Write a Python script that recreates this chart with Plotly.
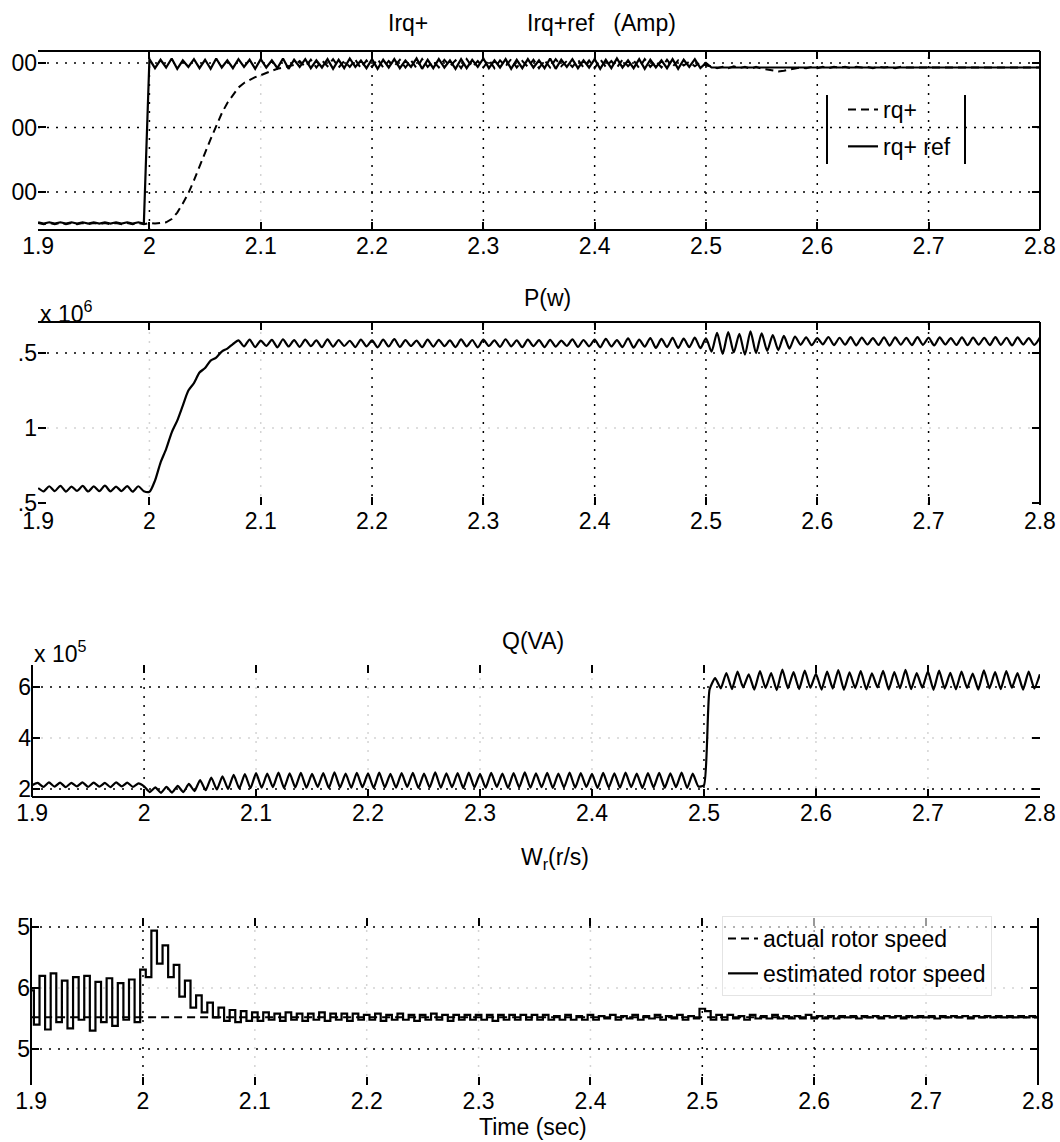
import numpy as np
import plotly.graph_objects as go

# ---------------- data ----------------
TIME = np.round(1.9 + 0.005 * np.arange(181), 3)   # 5 ms sample grid, 1.9 .. 2.8 s

X_TICKS = [1.9, 2.0, 2.1, 2.2, 2.3, 2.4, 2.5, 2.6, 2.7, 2.8]
X_TICKTEXT = ["1.9", "2", "2.1", "2.2", "2.3", "2.4", "2.5", "2.6", "2.7", "2.8"]

# Irq+ ref (solid)
IRQ_REF = [
    53, 51, 53, 51, 53, 51, 53, 51, 53, 51, 53, 51, 53, 51, 53, 51, 53, 51, 53, 51,
    306, 292, 305, 293, 307, 291, 304, 294, 306, 292,
    305, 291, 307, 293, 304, 292, 306, 294, 305, 291,
    306, 293, 304, 292, 307, 291, 305, 294, 306, 292,
    304, 293, 306, 291, 305, 292, 307, 294, 304, 292,
    306, 291, 305, 293, 306, 292, 304, 294, 307, 291,
    305, 292, 306, 293, 304, 291, 306, 292, 305, 294,
    307, 292, 304, 293, 306, 291, 305, 292, 306, 293,
    304, 292, 307, 291, 305, 294, 306, 292, 304, 293,
    306, 291, 305, 292, 307, 293, 304, 292, 306, 291,
    305, 293, 304, 292, 306, 291, 305, 294, 306, 292,
    300,
    293, 293, 293, 293, 293, 293, 293, 293, 293, 293,
    293, 293, 293, 293, 293, 293, 293, 293, 293, 293,
    293, 293, 293, 293, 293, 293, 293, 293, 293, 293,
    293, 293, 293, 293, 293, 293, 293, 293, 293, 293,
    293, 293, 293, 293, 293, 293, 293, 293, 293, 293,
    293, 293, 293, 293, 293, 293, 293, 293, 293, 293,
]

# Irq+ (dashed)
IRQ = [
    52, 50, 52, 50, 52, 50, 52, 50, 52, 50, 52, 50, 52, 50, 52, 50, 52, 50, 52, 50,
    52, 51, 52, 53,
    58, 68, 82, 98, 118, 140, 160, 182, 202, 222, 238, 251, 262, 269, 274, 278,
    281, 285, 288, 291, 293, 295, 297,
    303, 294, 305, 293, 304, 295, 306, 293, 303, 294,
    305, 292, 304, 294, 306, 293, 303, 295, 305, 293,
    304, 292, 306, 294, 303, 293, 305, 295, 304, 292,
    306, 294, 303, 293, 305, 292, 304, 295, 306, 293,
    303, 294, 305, 292, 304, 293, 306, 295, 303, 294,
    305, 293, 304, 292, 306, 294, 303, 293, 305, 295,
    304, 292, 306, 294, 303, 293, 305, 294, 304, 296,
    302, 295, 301, 296,
    295, 292, 294, 292, 295, 292, 294, 291, 294, 291,
    290, 288, 287, 288, 290, 292, 293, 292, 294, 292,
    294, 292, 294, 293, 294, 292, 294, 293, 294, 292,
    294, 293, 294, 292, 294, 293, 293, 293, 293, 293,
    293, 293, 293, 293, 293, 293, 293, 293, 293, 293,
    293, 293, 293, 293, 293, 293, 293, 293, 293, 293,
]

# P (W), x 10^6
P_W = [
    0.600, 0.578, 0.612, 0.580, 0.615, 0.576, 0.610, 0.581, 0.614, 0.577,
    0.611, 0.579, 0.616, 0.578, 0.609, 0.580, 0.613, 0.576, 0.612, 0.579,
    0.575,
    0.65, 0.77, 0.86, 0.97, 1.05, 1.15, 1.25, 1.30, 1.37, 1.40, 1.45, 1.47, 1.51, 1.53, 1.56,
    1.585, 1.545, 1.590, 1.540, 1.583, 1.548, 1.588, 1.538, 1.592, 1.544,
    1.586, 1.541, 1.589, 1.546, 1.584, 1.539, 1.591, 1.543, 1.587, 1.547,
    1.582, 1.540, 1.590, 1.545, 1.585, 1.538, 1.589, 1.544, 1.593, 1.541,
    1.586, 1.547, 1.583, 1.539, 1.590, 1.543, 1.588, 1.546, 1.584, 1.540,
    1.591, 1.544, 1.587, 1.538, 1.589, 1.547, 1.585, 1.541, 1.592, 1.545,
    1.584, 1.539, 1.590, 1.546, 1.586, 1.540, 1.588, 1.543, 1.583, 1.547,
    1.591, 1.541, 1.587, 1.545, 1.589, 1.538, 1.595, 1.544, 1.586, 1.540,
    1.598, 1.536, 1.590, 1.542, 1.600, 1.535, 1.594, 1.540, 1.602, 1.534,
    1.596, 1.539, 1.603, 1.532, 1.598,
    1.510, 1.635, 1.495, 1.640, 1.505, 1.628, 1.490, 1.645, 1.500, 1.632,
    1.515, 1.620, 1.520, 1.615, 1.530, 1.610,
    1.555, 1.605, 1.552, 1.600, 1.558, 1.607, 1.553, 1.602, 1.556, 1.606,
    1.551, 1.603, 1.557, 1.600, 1.554, 1.605, 1.550, 1.604, 1.556, 1.601,
    1.553, 1.606, 1.555, 1.602, 1.551, 1.604, 1.557, 1.600, 1.554, 1.605,
    1.552, 1.603, 1.556, 1.601, 1.553, 1.606, 1.555, 1.602, 1.551, 1.604,
    1.557, 1.600, 1.554, 1.603,
]

# Q (VA), x 10^5
Q_VA = [
    2.15, 2.24, 2.08, 2.26, 2.09, 2.25, 2.07, 2.24, 2.10, 2.26,
    2.08, 2.25, 2.09, 2.24, 2.07, 2.26, 2.10, 2.25, 2.08, 2.22,
    2.10, 1.88, 2.06, 1.85, 2.08, 1.86, 2.12, 1.88, 2.20, 1.92,
    2.35, 1.95, 2.45, 1.98, 2.50, 2.00, 2.55, 2.02, 2.58, 2.03,
    2.62, 2.05, 2.60, 2.07, 2.64, 2.04, 2.61, 2.06, 2.63, 2.05,
    2.59, 2.08, 2.62, 2.04, 2.65, 2.06, 2.60, 2.05, 2.63, 2.07,
    2.61, 2.04, 2.64, 2.06, 2.59, 2.05, 2.62, 2.08, 2.63, 2.04,
    2.60, 2.06, 2.65, 2.05, 2.61, 2.07, 2.62, 2.04, 2.64, 2.06,
    2.59, 2.05, 2.63, 2.08, 2.60, 2.04, 2.62, 2.06, 2.65, 2.05,
    2.61, 2.07, 2.63, 2.04, 2.60, 2.06, 2.64, 2.05, 2.62, 2.08,
    2.59, 2.04, 2.63, 2.06, 2.61, 2.05, 2.64, 2.07, 2.60, 2.04,
    2.62, 2.06, 2.63, 2.05, 2.61, 2.07, 2.64, 2.04, 2.60, 2.10,
    2.15,
    5.90, 6.35, 5.95, 6.55, 5.92, 6.60, 5.98, 6.50, 5.90, 6.62,
    5.96, 6.55, 5.88, 6.68, 5.95, 6.58, 5.92, 6.64, 5.97, 6.52,
    5.90, 6.60, 5.94, 6.66, 5.89, 6.57, 5.96, 6.62, 5.91, 6.54,
    5.98, 6.63, 5.90, 6.58, 5.95, 6.67, 5.92, 6.55, 5.97, 6.61,
    5.89, 6.64, 5.94, 6.56, 5.91, 6.60, 5.96, 6.53, 5.90, 6.65,
    5.95, 6.58, 5.92, 6.62, 5.97, 6.55, 5.90, 6.60, 5.94, 6.50,
]

# estimated rotor speed (solid)
W_EST = [
    1.598, 1.570, 1.610, 1.566, 1.612, 1.572, 1.606, 1.567, 1.609, 1.574,
    1.610, 1.565, 1.605, 1.572, 1.608, 1.569, 1.604, 1.574, 1.607, 1.572,
    1.615, 1.609, 1.647, 1.620, 1.635, 1.609, 1.619, 1.593, 1.606, 1.584,
    1.594, 1.580, 1.588, 1.576, 1.584, 1.573, 1.582, 1.572, 1.581, 1.573,
    1.580, 1.573, 1.580, 1.574, 1.579, 1.573, 1.580, 1.574, 1.579, 1.573,
    1.579, 1.574, 1.580, 1.573, 1.579, 1.574, 1.579, 1.573, 1.579, 1.574,
    1.578, 1.574, 1.579, 1.573, 1.578, 1.574, 1.579, 1.574, 1.578, 1.573,
    1.578, 1.574, 1.579, 1.574, 1.578, 1.573, 1.578, 1.574, 1.578, 1.574,
    1.578, 1.574, 1.578, 1.573, 1.578, 1.574, 1.578, 1.574, 1.578, 1.574,
    1.578, 1.574, 1.578, 1.574, 1.577, 1.574, 1.578, 1.574, 1.577, 1.574,
    1.578, 1.574, 1.577, 1.575, 1.578, 1.574, 1.577, 1.575, 1.578, 1.574,
    1.577, 1.575, 1.578, 1.574, 1.577, 1.575, 1.578, 1.574, 1.577, 1.575,
    1.583, 1.581, 1.574, 1.578, 1.574, 1.578, 1.575, 1.577, 1.574, 1.578,
    1.575, 1.577, 1.575, 1.578, 1.575, 1.577, 1.575, 1.577, 1.575, 1.578,
    1.575, 1.577, 1.575, 1.577, 1.575, 1.577, 1.576, 1.577, 1.575, 1.577,
    1.576, 1.577, 1.575, 1.577, 1.576, 1.577, 1.575, 1.577, 1.576, 1.577,
    1.576, 1.577, 1.575, 1.577, 1.576, 1.577, 1.576, 1.577, 1.575, 1.577,
    1.576, 1.577, 1.576, 1.577, 1.576, 1.577, 1.576, 1.577, 1.576, 1.577,
    1.576,
]

# actual rotor speed (dashed, constant)
W_ACT_T = [1.9, 2.8]
W_ACT = [1.576, 1.576]

Y1_TICKS, Y1_TEXT = [100, 200, 300], ["00", "00", "00"]
Y2_TICKS, Y2_TEXT = [0.5, 1.0, 1.5], [".5", "1", ".5"]
Y3_TICKS, Y3_TEXT = [2, 4, 6], ["2", "4", "6"]
Y4_TICKS, Y4_TEXT = [1.55, 1.6, 1.65], ["5", "6", "5"]

for s in (IRQ_REF, IRQ, P_W, Q_VA, W_EST):
    assert len(s) == len(TIME), len(s)

# ---------------- layout geometry (page pixels) ----------------
FONT = "Liberation Sans, Arial, Helvetica, sans-serif"
FS = 23
WF, HF, OFF = 1060, 1142, 0  # figure fills the window (body margin removed below)
XR = [1.8999, 2.8001]


def fx(px):
    return (px - OFF) / WF


def fy(py):
    return 1 - (py - OFF) / HF


PANELS = [
    dict(xp=(38, 1040), yp=(230, 51), yr=[41, 318.6], yt=Y1_TICKS, ytt=Y1_TEXT,
         gy=[100, 200, 300], fadex=[2.1], fadey=[], edges=["top", "bottom", "right"]),
    dict(xp=(38, 1040), yp=(505, 322), yr=[0.487, 1.707], yt=Y2_TICKS, ytt=Y2_TEXT,
         gy=[1.0, 1.5], fadex=[2.0, 2.1], fadey=[1.0], edges=["top", "right"]),
    dict(xp=(32, 1040), yp=(797, 665), yr=[1.686, 6.863], yt=Y3_TICKS, ytt=Y3_TEXT,
         gy=[2, 4, 6], fadex=[2.1, 2.2, 2.3, 2.4, 2.6, 2.7], fadey=[4], edges=["left", "bottom"]),
    dict(xp=(31, 1038), yp=(1085, 918), yr=[1.5205, 1.6574], yt=Y4_TICKS, ytt=Y4_TEXT,
         gy=[1.55, 1.6, 1.65], fadex=[2.1, 2.2, 2.3, 2.4, 2.7], fadey=[1.6], edges=["left", "right"]),
]

fig = go.Figure()
layout = dict(
    width=WF, height=HF, margin=dict(l=0, r=0, t=0, b=0, autoexpand=False),
    paper_bgcolor="white", plot_bgcolor="white",
    font=dict(family=FONT, size=FS, color="black"),
)
shapes = []
axis_common = dict(showgrid=False, zeroline=False, showline=False, ticks="inside",
                   ticklen=8, tickwidth=1.5, tickcolor="black", mirror="ticks",
                   automargin=False, tickmode="array", ticklabeloverflow="allow",
                   tickfont=dict(family=FONT, size=FS, color="black"))

for i, p in enumerate(PANELS, start=1):
    xa = "xaxis" if i == 1 else f"xaxis{i}"
    ya = "yaxis" if i == 1 else f"yaxis{i}"
    xr = "x" if i == 1 else f"x{i}"
    yr = "y" if i == 1 else f"y{i}"
    layout[xa] = dict(axis_common, domain=[fx(p["xp"][0]), fx(p["xp"][1])], range=XR,
                      tickvals=X_TICKS, ticktext=X_TICKTEXT, anchor=yr)
    layout[ya] = dict(axis_common, domain=[fy(p["yp"][0]), fy(p["yp"][1])], range=p["yr"],
                      tickvals=p["yt"], ticktext=p["ytt"], anchor=xr)
    # dotted grid
    for xv in X_TICKS[1:-1]:
        col = "#d4d4d4" if xv in p["fadex"] else "black"
        shapes.append(dict(type="line", xref=xr, yref=f"{yr} domain", x0=xv, x1=xv, y0=0, y1=1,
                           line=dict(color=col, width=1.5, dash="2px,7px"), layer="below"))
    for yv in p["gy"]:
        col = "#d4d4d4" if yv in p["fadey"] else "black"
        shapes.append(dict(type="line", xref=f"{xr} domain", yref=yr, x0=0, x1=1, y0=yv, y1=yv,
                           line=dict(color=col, width=1.5, dash="2px,7px"), layer="below"))
    # frame edges
    ed = {"top": (0, 1, 1, 1), "bottom": (0, 0, 1, 0), "left": (0, 0, 0, 1), "right": (1, 0, 1, 1)}
    for e in p["edges"]:
        x0, y0, x1, y1 = ed[e]
        shapes.append(dict(type="line", xref=f"{xr} domain", yref=f"{yr} domain",
                           x0=x0, y0=y0, x1=x1, y1=y1, line=dict(color="black", width=2)))

# legend side bars of panel 1
for bx in (827, 965):
    shapes.append(dict(type="line", xref="paper", yref="paper", x0=fx(bx), x1=fx(bx),
                       y0=fy(95), y1=fy(164), line=dict(color="black", width=2)))

# ---------------- traces ----------------
fig.add_trace(go.Scatter(x=TIME, y=IRQ_REF, mode="lines", name="rq+ ref",
                         line=dict(color="black", width=2.2), xaxis="x", yaxis="y",
                         legend="legend", legendgroup="a2", legendrank=2))
fig.add_trace(go.Scatter(x=TIME, y=IRQ, mode="lines", name="rq+",
                         line=dict(color="black", width=2, dash="8px,5px"), xaxis="x", yaxis="y",
                         legend="legend", legendgroup="a1", legendrank=1))
fig.add_trace(go.Scatter(x=TIME, y=P_W, mode="lines", showlegend=False,
                         line=dict(color="black", width=2.2, shape="spline", smoothing=0.7),
                         xaxis="x2", yaxis="y2"))
fig.add_trace(go.Scatter(x=TIME, y=Q_VA, mode="lines", showlegend=False,
                         line=dict(color="black", width=2.2, shape="spline", smoothing=0.5),
                         xaxis="x3", yaxis="y3"))
fig.add_trace(go.Scatter(x=W_ACT_T, y=W_ACT, mode="lines", name="actual rotor speed",
                         line=dict(color="black", width=2, dash="8px,5px"), xaxis="x4", yaxis="y4",
                         legend="legend2", legendgroup="b1", legendrank=1))
fig.add_trace(go.Scatter(x=TIME, y=W_EST, mode="lines", name="estimated rotor speed",
                         line=dict(color="black", width=2.2, shape="hvh"), xaxis="x4", yaxis="y4",
                         legend="legend2", legendgroup="b2", legendrank=2))

layout["legend"] = dict(x=fx(843), y=fy(88), xanchor="left", yanchor="top",
                        bgcolor="rgba(0,0,0,0)", borderwidth=0, tracegroupgap=4,
                        font=dict(family=FONT, size=FS, color="black"))
layout["legend2"] = dict(x=fx(722), y=fy(916), xanchor="left", yanchor="top",
                         bgcolor="rgba(255,255,255,0.6)", bordercolor="#e4e4e4", borderwidth=1,
                         tracegroupgap=2, font=dict(family=FONT, size=FS, color="black"))

# ---------------- titles / labels ----------------
def ann(text, px, py, xanchor="center"):
    return dict(text=text, x=fx(px), y=fy(py), xref="paper", yref="paper", xanchor=xanchor,
                yanchor="middle", showarrow=False, font=dict(family=FONT, size=FS, color="black"))


annotations = [
    ann("Irq+", 408, 23),
    ann("Irq+ref   (Amp)", 525, 23, "left"),
    ann("P(w)", 547, 298),
    ann("x 10<sup>6</sup>", 38, 312, "left"),
    ann("Q(VA)", 533, 641),
    ann("x 10<sup>5</sup>", 32, 652, "left"),
    ann("W<sub>r</sub>(r/s)", 555, 858),
    ann("Time (sec)", 533, 1127),
]
layout["shapes"] = shapes
layout["annotations"] = annotations
fig.update_layout(**layout)

fig.write_html(
    "out.html",
    config={"displayModeBar": False},
    post_script="document.body.style.margin='0';document.body.style.overflow='hidden';",
)
